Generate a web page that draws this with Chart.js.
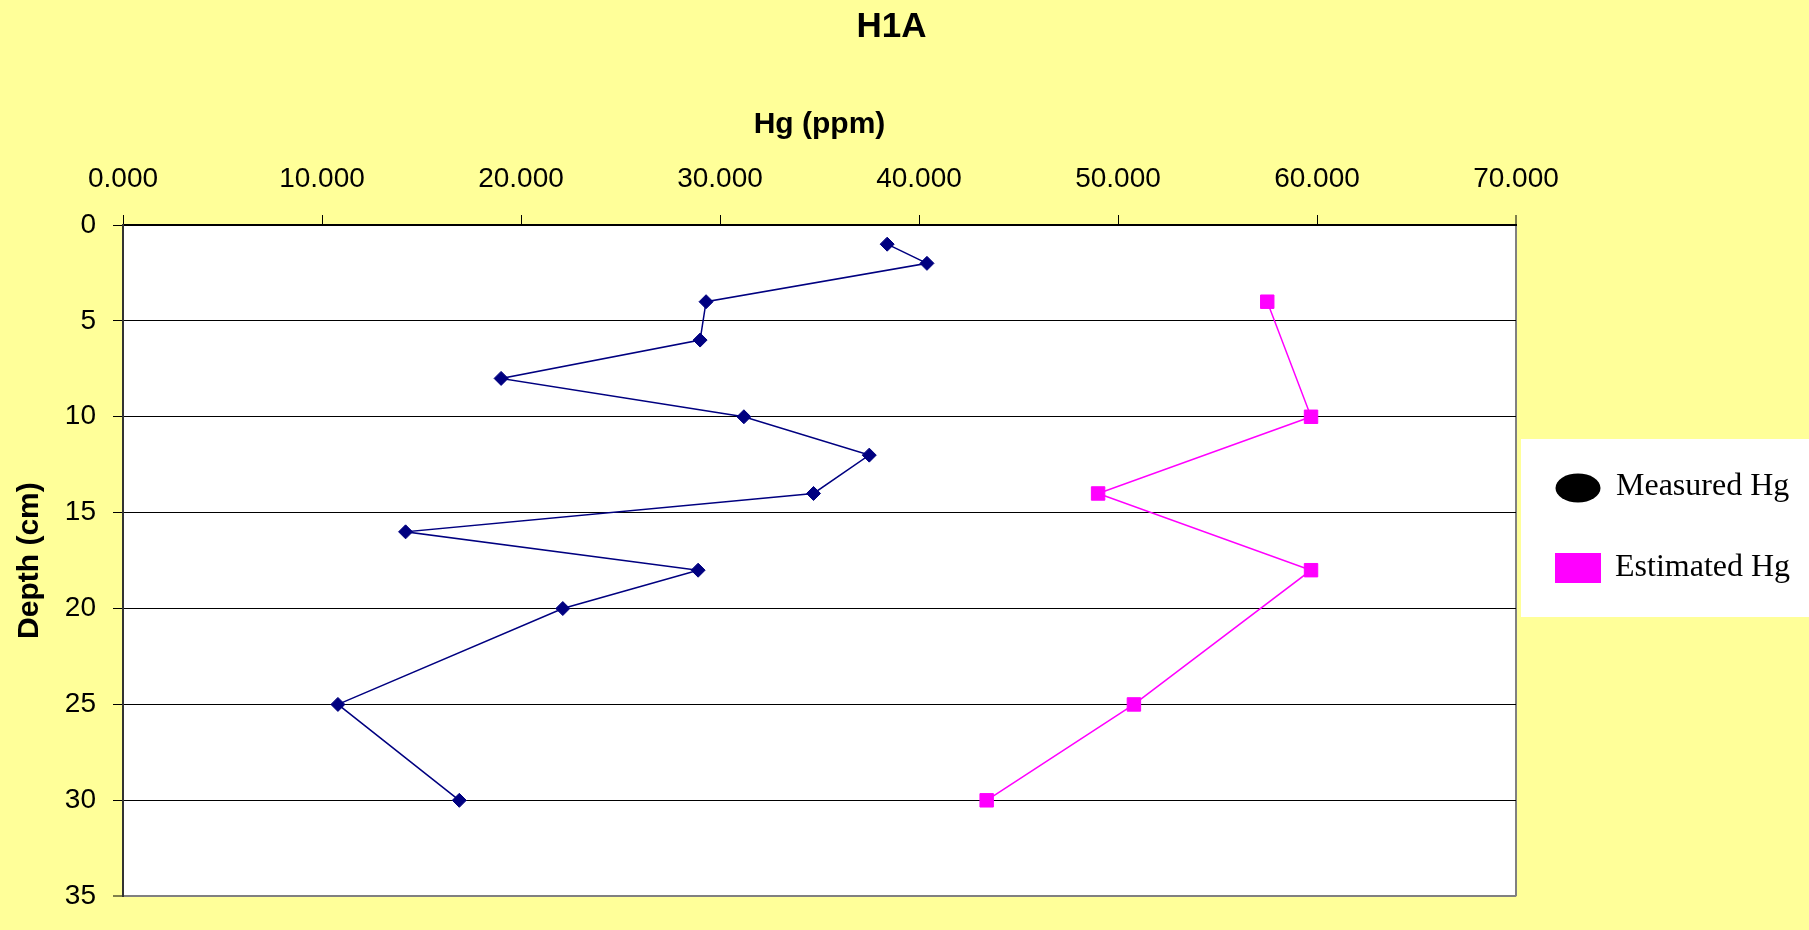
<!DOCTYPE html>
<html>
<head>
<meta charset="utf-8">
<script src="https://cdn.jsdelivr.net/npm/chart.js@4/dist/chart.umd.min.js"></script>
<style>
  html, body { margin: 0; padding: 0; background: #FFFF99; }
  canvas { display: block; }
</style>
</head>
<body>
<canvas id="c" width="1809" height="930"></canvas>
<script>
// ---- data ----
const chartTitle = 'H1A';
const xTitle = 'Hg (ppm)';
const yTitle = 'Depth (cm)';
const measuredLabel = 'Measured Hg';
const estimatedLabel = 'Estimated Hg';
const depthMeasured = [1, 2, 4, 6, 8, 10, 12, 14, 16, 18, 20, 25, 30];
const hgMeasured = [38.4, 40.4, 29.3, 29.0, 19.0, 31.2, 37.5, 34.7, 14.2, 28.9, 22.1, 10.8, 16.9];
const depthEstimated = [4, 10, 14, 18, 25, 30];
const hgEstimated = [57.5, 59.7, 49.0, 59.7, 50.8, 43.4];
const xMin = 0, xMax = 70, xStep = 10;
const yMin = 0, yMax = 35, yStep = 5;

Chart.defaults.font.family = "'Liberation Sans', Arial, sans-serif";
Chart.defaults.color = '#000';

const toPoints = (xs, ys) => xs.map((v, i) => ({ x: v, y: ys[i] }));

const bgPlugin = {
  id: 'bg',
  beforeDraw(chart) {
    const { ctx, chartArea: a } = chart;
    ctx.save();
    ctx.fillStyle = '#FFFF99';
    ctx.fillRect(0, 0, chart.width, chart.height);
    ctx.fillStyle = '#FFFFFF';
    ctx.fillRect(a.left, a.top, a.right - a.left, a.bottom - a.top);
    ctx.restore();
  }
};

const legendPlugin = {
  id: 'customLegend',
  afterDraw(chart) {
    const { ctx, chartArea: a } = chart;
    const ds = chart.data.datasets;
    const left = a.right + 5;
    const top = 439;
    ctx.save();
    ctx.fillStyle = '#FFFFFF';
    ctx.fillRect(left, top, chart.width - left, 178);
    // item 1: ellipse
    ctx.fillStyle = '#000000';
    ctx.beginPath();
    ctx.ellipse(left + 57, top + 49, 22.5, 14.5, 0, 0, Math.PI * 2);
    ctx.fill();
    // item 2: square
    ctx.fillStyle = ds[1].backgroundColor;
    ctx.fillRect(left + 34, top + 114, 46, 30);
    ctx.fillStyle = '#000';
    ctx.font = "32px 'Liberation Serif', 'Times New Roman', serif";
    ctx.textAlign = 'left';
    ctx.textBaseline = 'alphabetic';
    ctx.fillText(ds[0].label, left + 95, top + 56);
    ctx.fillText(ds[1].label, left + 94, top + 137);
    ctx.restore();
  }
};

new Chart(document.getElementById('c'), {
  type: 'scatter',
  data: {
    datasets: [
      {
        label: measuredLabel,
        data: toPoints(hgMeasured, depthMeasured),
        showLine: true,
        borderColor: '#000080',
        backgroundColor: '#000080',
        borderWidth: 1.5,
        pointStyle: 'rectRot',
        pointRadius: 7,
        pointBorderWidth: 1
      },
      {
        label: estimatedLabel,
        data: toPoints(hgEstimated, depthEstimated),
        showLine: true,
        borderColor: '#FF00FF',
        backgroundColor: '#FF00FF',
        borderWidth: 1.5,
        pointStyle: 'rect',
        pointRadius: 9.5,
        pointBorderWidth: 1
      }
    ]
  },
  options: {
    responsive: false,
    animation: false,
    devicePixelRatio: 1,
    layout: { padding: { left: 0, top: 0, right: 26, bottom: 17 } },
    plugins: {
      legend: { display: false },
      tooltip: { enabled: false },
      title: {
        display: true,
        text: chartTitle,
        color: '#000',
        font: { size: 35, weight: 'bold' },
        padding: { top: 6, bottom: 0 }
      }
    },
    scales: {
      x: {
        type: 'linear',
        position: 'top',
        min: xMin,
        max: xMax,
        afterFit(s) { s.height = 177; },
        ticks: {
          stepSize: xStep,
          padding: 19,
          font: { size: 28 },
          color: '#000',
          callback: (v) => Number(v).toFixed(3)
        },
        grid: {
          drawOnChartArea: true,
          color: (c) => (c.tick && c.tick.value === xMax) ? '#808080' : 'rgba(0,0,0,0)',
          lineWidth: (c) => (c.tick && c.tick.value === xMax) ? 2 : 1,
          tickColor: '#000',
          tickWidth: 1,
          tickLength: 10
        },
        border: { display: true, color: '#000', width: 2 },
        title: {
          display: true,
          text: xTitle,
          color: '#000',
          font: { size: 30, weight: 'bold' },
          padding: { top: 59, bottom: 0 }
        }
      },
      y: {
        type: 'linear',
        position: 'left',
        reverse: true,
        min: yMin,
        max: yMax,
        afterFit(s) { s.width = 123; },
        ticks: {
          stepSize: yStep,
          padding: 17,
          font: { size: 28 },
          color: '#000'
        },
        grid: {
          color: (c) => (c.tick && c.tick.value === yMax) ? '#808080' : '#000',
          lineWidth: (c) => (c.tick && c.tick.value === yMax) ? 2 : 1,
          tickColor: '#000',
          tickWidth: 1,
          tickLength: 10
        },
        border: { display: true, color: '#333', width: 2 },
        title: {
          display: true,
          text: yTitle,
          color: '#000',
          font: { size: 30, weight: 'bold' },
          padding: { top: 12, bottom: 0 }
        }
      },
      legendSpace: {
        type: 'linear',
        position: 'right',
        display: true,
        afterFit(s) { s.width = 267; },
        ticks: { display: false },
        grid: { display: false, drawOnChartArea: false },
        border: { display: false },
        title: { display: false }
      }
    }
  },
  plugins: [bgPlugin, legendPlugin]
});
</script>
</body>
</html>
